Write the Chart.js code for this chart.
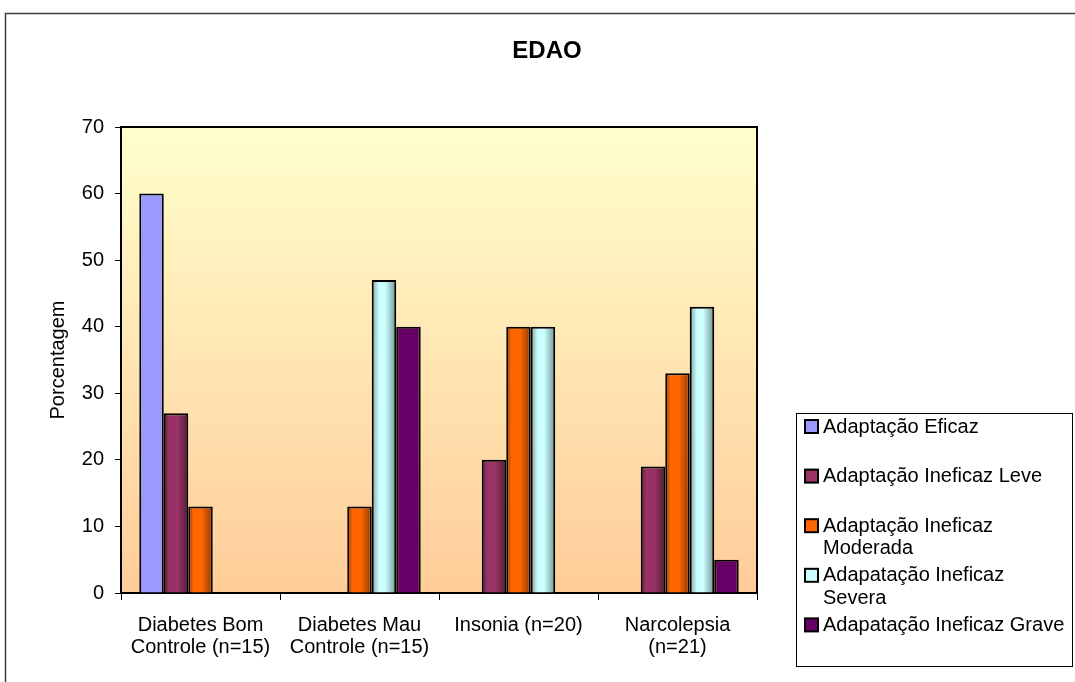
<!DOCTYPE html>
<html>
<head>
<meta charset="utf-8">
<title>EDAO</title>
<script src="https://cdn.jsdelivr.net/npm/chart.js@4.4.1/dist/chart.umd.min.js"></script>
<style>
  html, body { margin: 0; padding: 0; background: #fff; }
  #wrap { position: relative; width: 1075px; height: 682px; }
</style>
</head>
<body>
<div id="wrap"><canvas id="edao" width="1075" height="682"></canvas></div>
<script>
const chartTitle = 'EDAO';
const yTitle = 'Porcentagem';
const categories = [
  ['Diabetes Bom', 'Controle (n=15)'],
  ['Diabetes Mau', 'Controle (n=15)'],
  'Insonia (n=20)',
  ['Narcolepsia', '(n=21)']
];
const seriesNames = [
  'Adaptação Eficaz',
  'Adaptação Ineficaz Leve',
  'Adaptação Ineficaz Moderada',
  'Adapatação Ineficaz Severa',
  'Adapatação Ineficaz Grave'
];
const eficaz   = [60, 0, 0, 0];
const leve     = [27, 0, 20, 19];
const moderada = [13, 13, 40, 33];
const severa   = [0, 47, 40, 43];
const grave    = [0, 40, 0, 5];
const yTicks = [0, 10, 20, 30, 40, 50, 60, 70];

const FONT = "'Liberation Sans', Arial, sans-serif";
const CAT_PCT = 0.77;

// base colour for legend swatches + shaded stops for the bars (old excel look)
const baseColors = ['#9999ff', '#993366', '#ff6600', '#ccffff', '#660066'];
const shades = [
  null,
  [[0, '#5a1d3b'], [0.22, '#993366'], [0.55, '#993366'], [1, '#551c38']],
  [[0, '#7a3000'], [0.2, '#ff6600'], [0.55, '#ff6600'], [1, '#8f3a00']],
  [[0, '#7fa3a3'], [0.3, '#ccffff'], [0.55, '#ccffff'], [1, '#6f9393']],
  null
];

// horizontal gradient per bar, position worked out from the x scale
function barFill(i) {
  return (c) => {
    const chart = c.chart;
    const x = chart.scales.x;
    if (!shades[i] || !x || !chart.chartArea || c.type !== 'data') return baseColors[i];
    const catW = (x.right - x.left) / categories.length;
    const barW = catW * CAT_PCT / seriesNames.length;
    const left = x.getPixelForValue(c.dataIndex) - catW * CAT_PCT / 2 + c.datasetIndex * barW;
    const g = chart.ctx.createLinearGradient(left, 0, left + barW, 0);
    shades[i].forEach(s => g.addColorStop(s[0], s[1]));
    return g;
  };
}

const seriesData = [eficaz, leve, moderada, severa, grave];

function wrapText(ctx, text, maxW) {
  const words = text.split(' ');
  const lines = [];
  let line = '';
  words.forEach(w => {
    const t = line ? line + ' ' + w : w;
    if (line && ctx.measureText(t).width > maxW) {
      lines.push(line);
      line = w;
    } else {
      line = t;
    }
  });
  lines.push(line);
  return lines;
}

const decor = {
  id: 'decor',
  beforeDraw(chart) {
    const { ctx, chartArea: a } = chart;
    ctx.save();
    ctx.fillStyle = '#fff';
    ctx.fillRect(0, 0, chart.width, chart.height);
    // outer chart frame (runs off the picture right/bottom)
    ctx.strokeStyle = '#404040';
    ctx.lineWidth = 1.5;
    ctx.strokeRect(5.5, 13.5, chart.width + 20, chart.height + 20);
    // plot area fill
    const g = ctx.createLinearGradient(0, a.top, 0, a.bottom);
    g.addColorStop(0, '#ffffcc');
    g.addColorStop(1, '#ffcc99');
    ctx.fillStyle = g;
    ctx.fillRect(a.left, a.top, a.right - a.left, a.bottom - a.top);
    ctx.restore();
  },
  beforeDatasetsDraw(chart) {
    const { ctx, chartArea: a } = chart;
    ctx.save();
    ctx.strokeStyle = '#000';
    ctx.lineWidth = 2;
    ctx.beginPath();
    ctx.moveTo(a.left, a.top);
    ctx.lineTo(a.right, a.top);
    ctx.lineTo(a.right, a.bottom);
    ctx.stroke();
    ctx.restore();
  },
  afterDraw(chart) {
    const ctx = chart.ctx;
    ctx.save();
    // title
    ctx.fillStyle = '#000';
    ctx.font = 'bold 24px ' + FONT;
    ctx.textAlign = 'center';
    ctx.textBaseline = 'middle';
    ctx.fillText(chartTitle, 547, 51);

    // legend box
    ctx.strokeStyle = '#000';
    ctx.lineWidth = 1;
    ctx.strokeRect(796.5, 413.5, 276, 253);
    ctx.font = '20px ' + FONT;
    ctx.textAlign = 'left';
    let y = 427;
    chart.data.datasets.forEach((ds, i) => {
      ctx.fillStyle = baseColors[i];
      ctx.fillRect(805, y - 7, 13, 13);
      ctx.strokeStyle = '#000';
      ctx.lineWidth = 2;
      ctx.strokeRect(805, y - 7, 13, 13);
      ctx.fillStyle = '#000';
      const lines = wrapText(ctx, ds.label, 246);
      lines.forEach((l, k) => ctx.fillText(l, 823, y + k * 22.5));
      y += 49.6;
    });
    ctx.restore();
  }
};

new Chart(document.getElementById('edao'), {
  type: 'bar',
  data: {
    labels: categories,
    datasets: seriesNames.map((name, i) => ({
      label: name,
      data: seriesData[i],
      backgroundColor: barFill(i),
      borderColor: '#000',
      borderWidth: 2,
      categoryPercentage: CAT_PCT,
      barPercentage: 1
    }))
  },
  options: {
    responsive: false,
    animation: false,
    devicePixelRatio: 1,
    layout: { padding: { top: 127, right: 318, left: 0, bottom: 0 } },
    plugins: {
      legend: { display: false },
      title: { display: false },
      tooltip: { enabled: false }
    },
    scales: {
      x: {
        grid: { display: true, drawOnChartArea: false, tickLength: 7, color: '#000', lineWidth: 1, offset: true },
        border: { display: true, color: '#000', width: 2 },
        ticks: { color: '#000', font: { family: FONT, size: 20, lineHeight: 1.1 }, padding: 14, maxRotation: 0, autoSkip: false },
        afterFit(s) { s.height = 89; }
      },
      y: {
        min: 0,
        max: 70,
        afterBuildTicks(s) { s.ticks = yTicks.map(v => ({ value: v })); },
        grid: { display: true, drawOnChartArea: false, tickLength: 6, color: '#000', lineWidth: 1 },
        border: { display: true, color: '#000', width: 2 },
        ticks: { color: '#000', font: { family: FONT, size: 20 }, padding: 11 },
        title: { display: true, text: yTitle, color: '#000', font: { family: FONT, size: 20 }, padding: { top: 46.6, bottom: 0 } },
        afterFit(s) { s.width = 121; }
      }
    }
  },
  plugins: [decor]
});
</script>
</body>
</html>
